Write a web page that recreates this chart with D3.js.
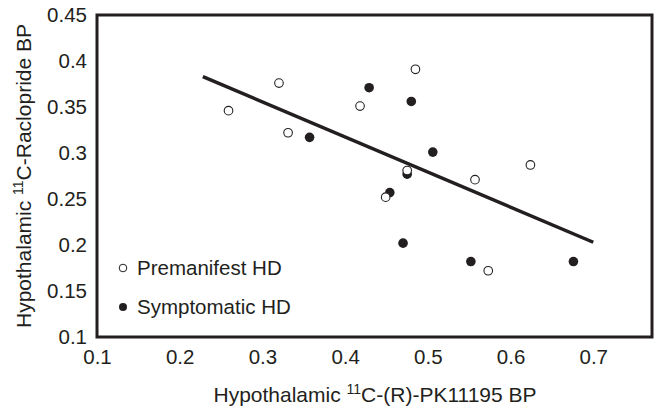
<!DOCTYPE html>
<html>
<head>
<meta charset="utf-8">
<script src="https://cdn.jsdelivr.net/npm/d3@7"></script>
<style>
  body { margin: 0; background: #fff; }
  svg text { font-family: "Liberation Sans", Arial, sans-serif; fill: #231f20; }
</style>
</head>
<body>
<svg id="chart" width="654" height="408"></svg>
<script>
// premanifest HD (open circles)
const premanifest_x = [0.259, 0.320, 0.331, 0.418, 0.485, 0.475, 0.449, 0.557, 0.624, 0.573];
const premanifest_y = [0.346, 0.376, 0.322, 0.351, 0.391, 0.281, 0.252, 0.271, 0.287, 0.172];
// symptomatic HD (filled circles)
const symptomatic_x = [0.357, 0.429, 0.480, 0.506, 0.475, 0.454, 0.470, 0.552, 0.676];
const symptomatic_y = [0.317, 0.371, 0.356, 0.301, 0.277, 0.257, 0.202, 0.182, 0.182];
// regression line end points
const fit_x = [0.228, 0.700];
const fit_y = [0.383, 0.203];

const x_ticks = [0.1, 0.2, 0.3, 0.4, 0.5, 0.6, 0.7];
const y_ticks = [0.1, 0.15, 0.2, 0.25, 0.3, 0.35, 0.4, 0.45];

const svg = d3.select("#chart");
const ink = "#231f20";
const fs = 20.5;
const m_left = 97, m_top = 15, m_right = 652, m_bottom = 337;

const x = d3.scaleLinear().domain([0.1, 0.771]).range([m_left, m_right]);
const y = d3.scaleLinear().domain([0.1, 0.45]).range([m_bottom, m_top]);

svg.append("g")
    .attr("transform", `translate(0,${m_bottom})`)
    .call(d3.axisBottom(x).tickValues(x_ticks).tickSize(0).tickPadding(12).tickFormat(d3.format("")))
    .call(g => g.select(".domain").remove())
    .call(g => g.selectAll("text").attr("font-size", fs).attr("font-family", null));

svg.append("g")
    .attr("transform", `translate(${m_left},0)`)
    .call(d3.axisLeft(y).tickValues(y_ticks).tickSize(0).tickPadding(10).tickFormat(d3.format("")))
    .call(g => g.select(".domain").remove())
    .call(g => g.selectAll("text").attr("font-size", fs).attr("font-family", null));

// frame
svg.append("rect")
    .attr("x", m_left).attr("y", m_top)
    .attr("width", m_right - m_left).attr("height", m_bottom - m_top)
    .attr("fill", "none").attr("stroke", ink).attr("stroke-width", 3);

// regression line
svg.append("line")
    .attr("x1", x(fit_x[0])).attr("y1", y(fit_y[0]))
    .attr("x2", x(fit_x[1])).attr("y2", y(fit_y[1]))
    .attr("stroke", ink).attr("stroke-width", 3.5);

const pre = premanifest_x.map((v, i) => ({x: v, y: premanifest_y[i]}));
const sym = symptomatic_x.map((v, i) => ({x: v, y: symptomatic_y[i]}));

svg.append("g").selectAll("circle")
    .data(sym).enter().append("circle")
    .attr("cx", d => x(d.x)).attr("cy", d => y(d.y)).attr("r", 4.8)
    .attr("fill", ink);

svg.append("g").selectAll("circle")
    .data(pre).enter().append("circle")
    .attr("cx", d => x(d.x)).attr("cy", d => y(d.y)).attr("r", 4.3)
    .attr("fill", "#fff").attr("stroke", ink).attr("stroke-width", 1.1);

// legend
const legend = svg.append("g").attr("transform", "translate(123,268)");
legend.append("circle").attr("cx", 0).attr("cy", 0).attr("r", 3.8)
    .attr("fill", "#fff").attr("stroke", ink).attr("stroke-width", 1);
legend.append("text").attr("x", 14).attr("y", 7).attr("font-size", fs).text("Premanifest HD");
legend.append("circle").attr("cx", 0).attr("cy", 39).attr("r", 4)
    .attr("fill", ink);
legend.append("text").attr("x", 14).attr("y", 46).attr("font-size", fs).text("Symptomatic HD");

// axis titles
const xt = svg.append("text")
    .attr("x", 375).attr("y", 402)
    .attr("text-anchor", "middle").attr("font-size", 21);
xt.append("tspan").text("Hypothalamic ");
xt.append("tspan").attr("font-size", 14).attr("dy", -8).text("11");
xt.append("tspan").attr("dy", 8).text("C-(R)-PK11195 BP");

const yt = svg.append("text")
    .attr("transform", `translate(31,${(m_top + m_bottom) / 2}) rotate(-90)`)
    .attr("text-anchor", "middle").attr("font-size", 21);
yt.append("tspan").text("Hypothalamic ");
yt.append("tspan").attr("font-size", 14).attr("dy", -8).text("11");
yt.append("tspan").attr("dy", 8).text("C-Raclopride BP");
</script>
</body>
</html>
